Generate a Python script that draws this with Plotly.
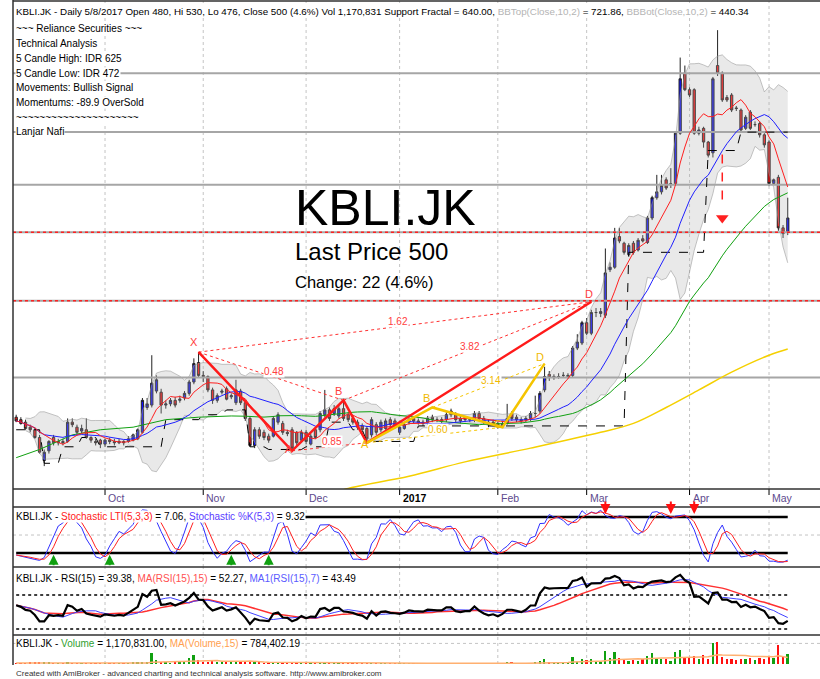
import numpy as np
import pandas as pd
import plotly.graph_objects as go

# ---------------- data ----------------
MONTH_LABELS = ["Oct", "Nov", "Dec", "2017", "Feb", "Mar", "Apr", "May"]
MONTH_START = [19, 40, 62, 82, 103, 122, 144, 161]

OPEN = [282,280,278,274,272,266,249,256,266,262,
        263,263,278,274,271,272,266,263,264,261,
        264,263,262,263,263,264,265,270,290,292,
        304,303,292,293,296,296,298,302,312,330,
        318,317,305,296,303,306,299,294,304,294,
        281,260,272,270,267,267,278,277,270,272,
        270,264,270,261,272,272,284,288,285,283,
        289,284,281,278,275,273,268,276,272,273,
        280,279,270,273,278,281,279,277,278,282,
        280,279,280,287,284,281,282,280,280,285,
        281,278,278,277,275,277,285,282,280,280,
        281,285,287,305,319,316,317,318,317,318,
        344,349,370,359,381,380,378,431,434,474,
        465,450,465,456,471,466,500,530,539,558,
        552,552,638,758,723,723,638,647,622,603,
        775,758,707,712,686,682,647,678,654,656,
        635,622,552,562,486,480]
HIGH = [284,282,280,276,274,268,257,264,268,265,
        265,281,281,276,276,281,267,265,265,265,
        266,265,265,264,267,269,273,298,298,337,
        318,306,296,298,299,300,304,314,334,340,
        322,318,307,302,306,308,302,314,306,296,
        283,274,274,272,269,283,286,279,272,274,
        271,272,272,269,274,287,305,290,292,292,
        296,286,283,280,277,275,282,278,280,281,
        282,281,276,278,282,283,281,280,283,284,
        282,282,286,289,286,283,283,282,287,287,
        283,280,280,278,279,293,287,284,282,283,
        287,300,304,326,322,319,320,321,320,346,
        358,372,375,384,386,386,458,440,486,486,
        467,465,468,472,476,503,533,566,566,562,
        577,642,793,775,728,726,650,650,624,750,
        858,762,712,716,690,685,672,682,660,660,
        638,625,560,566,490,530]
LOW = [278,276,272,270,265,254,245,254,260,260,
       260,262,274,268,269,265,262,260,258,259,
       261,260,261,260,262,263,264,269,288,290,
       302,285,289,291,290,294,296,300,310,316,
       312,303,293,294,301,296,297,292,292,279,
       259,258,265,264,262,266,276,268,267,256,
       259,262,261,260,265,270,282,279,283,281,
       279,278,276,272,270,262,266,268,270,272,
       274,273,268,272,276,277,276,275,276,278,
       278,277,278,282,278,277,278,278,278,279,
       276,274,275,273,274,276,279,278,277,278,
       279,282,285,303,313,314,315,316,315,316,
       342,347,357,357,376,376,375,428,432,465,
       450,447,450,454,466,464,497,527,535,542,
       545,549,635,720,708,635,634,612,595,595,
       752,698,698,678,680,640,644,644,650,630,
       612,548,550,482,472,476]
CLOSE = [279,277,273,272,266,255,255,263,262,263,
         262,278,276,270,273,266,264,262,261,264,
         263,262,263,262,265,268,272,296,293,311,
         314,292,293,296,292,297,302,312,329,318,
         317,305,296,300,304,297,300,305,294,281,
         260,272,267,266,264,281,284,270,269,258,
         262,270,263,267,266,285,288,281,289,289,
         281,280,278,274,272,265,280,270,278,279,
         276,275,274,276,280,279,278,278,281,280,
         280,280,284,284,280,279,280,280,285,281,
         278,276,277,275,277,281,281,280,279,281,
         285,285,302,317,316,317,317,318,318,344,
         350,370,359,381,381,382,427,434,472,468,
         453,462,453,469,468,500,530,539,549,545,
         552,638,746,723,712,638,644,622,599,746,
         758,702,702,682,685,644,668,647,654,635,
         617,552,558,486,478,500]
VOLUME_K = [120,90,110,150,130,200,180,140,100,80,
            90,160,110,100,90,120,80,70,90,
            80,70,90,60,80,120,150,180,260,300,
            1300,430,250,150,120,130,140,400,780,1130,430,
            250,300,350,200,150,200,180,250,220,200,
            300,250,150,120,110,150,160,180,90,150,120,100,
            110,100,90,130,170,120,140,150,130,110,
            90,100,80,120,110,90,100,80,90,70,
            80,70,90,60,70,80,70,60,50,60,
            80,70,60,50,60,70,80,60,50,60,50,
            60,70,250,150,80,70,60,100,200,400,
            560,150,120,130,140,200,870,300,560,
            430,560,300,250,1560,700,1430,780,430,350,
            500,420,560,1000,1300,600,650,560,420,1430,1700,870,
            750,1000,560,1130,600,2500,2700,800,560,600,
            430,560,560,700,430,700,600,
            870,700,2300,900,1170.831]

# slow moving averages whose history starts before the visible range
GREEN_EARLY_IDX = [0, 5, 12, 18, 25, 32, 39, 46]
GREEN_EARLY_VAL = [251, 257, 268, 272, 274, 280, 282, 283]
YELLOW_IDX = [68, 70, 84, 96, 110, 125, 132, 139, 146, 153, 161, 165]
YELLOW_VAL = [226, 229, 238, 248, 258, 270, 277, 290, 305, 321, 337, 343]
RSI_SEED = 58   # RSI level carried in from before the visible range

# support-fractal step line
SUP_START = [0, 6, 10, 14, 18, 32, 40, 45, 50, 54, 62, 67, 72, 75, 86, 131, 148, 155]
SUP_END = [5, 9, 13, 17, 31, 39, 44, 49, 53, 61, 66, 71, 74, 85, 130, 147, 154, 165]
SUP_VAL = [272, 247, 259, 266, 259, 280, 284, 288, 259, 257, 259, 278, 272, 263, 275, 453, 607, 640]

GRAY_LEVELS = [758, 640, 550, 480, 394, 316]
RED_LEVELS = [480, 394]

RED_PAT_LBL = ["X", "A", "B", "", "D"]
RED_PAT_IDX = [39, 59, 70, 75, 123]
RED_PAT_VAL = [340, 256, 296, 262, 393]
RED_RATIO_LBL = ["0.48", "0.85", "1.62", "3.82"]   # X-B, A-C, X-D, B-D
YEL_PAT_LBL = ["A", "B", "C", "D"]
YEL_PAT_IDX = [75, 89, 104, 113]
YEL_PAT_VAL = [262, 290, 274, 329]
YEL_RATIO_LBL = ["0.60", "3.14"]                  # A-C, B-D

BUY_IDX = [8, 20, 46, 54]
SELL_IDX = [126, 140, 145]
TARGET_IDX = 151
TARGET_FROM, TARGET_TO = 600, 500

assert len(OPEN) == len(HIGH) == len(LOW) == len(CLOSE) == len(VOLUME_K) == 166

# ---------------- indicators ----------------
n = len(CLOSE)
idx = np.arange(n)
c = pd.Series(CLOSE, dtype=float)
h = pd.Series(HIGH, dtype=float)
l = pd.Series(LOW, dtype=float)
vol = pd.Series(VOLUME_K, dtype=float) * 1000

ma7 = c.rolling(7, min_periods=1).mean()
ma20 = c.rolling(20, min_periods=1).mean()
ma50 = c.rolling(50).mean()
mid = c.rolling(10, min_periods=3).mean()
sd = c.rolling(10, min_periods=3).std(ddof=0)
bbt, bbb = mid + 2 * sd, mid - 2 * sd

llv = l.rolling(5, min_periods=1).min()
hhv = h.rolling(5, min_periods=1).max()
raw = 100 * (c - llv) / (hhv - llv)
stk = raw.rolling(3, min_periods=1).mean()
std_ = stk.rolling(3, min_periods=1).mean()

# Wilder RSI(15), seeded with the level carried in from earlier history
dl = c.diff().fillna(0).values
base = np.abs(dl[1:16]).mean() / 2
ag = base * RSI_SEED / 50
al = base * (100 - RSI_SEED) / 50
rsi_v = []
for dd in dl:
    ag = (ag * 14 + max(dd, 0)) / 15
    al = (al * 14 + max(-dd, 0)) / 15
    rsi_v.append(100 - 100 / (1 + ag / al))
rsi = pd.Series(rsi_v)
rsi_ma15 = rsi.rolling(15, min_periods=1).mean()
rsi_ma7 = rsi.rolling(7, min_periods=1).mean()
vol_ma = vol.rolling(15, min_periods=1).mean()

green_x = GREEN_EARLY_IDX + list(idx[49:])
green_y = GREEN_EARLY_VAL + list(ma50.iloc[49:])

sup = np.zeros(n)
for s, e, v in zip(SUP_START, SUP_END, SUP_VAL):
    sup[s:e + 1] = v

# ---------------- geometry ----------------
W, H = 820, 679
L_PX = 13
XR = [-0.68, 171.9]


def PX(px):
    return (px - L_PX) / (W - L_PX)


def PY(py):
    return 1 - py / H


FONT = "Liberation Sans, Arial, sans-serif"
LOGR = [np.log10(229.4), np.log10(933.0)]

fig = go.Figure()

# Bollinger band
fig.add_trace(go.Scatter(x=idx, y=bbt, mode="lines", line=dict(color="rgba(150,150,150,0.55)", width=1),
                         xaxis="x", yaxis="y", hoverinfo="skip"))
fig.add_trace(go.Scatter(x=idx, y=bbb, mode="lines", line=dict(color="rgba(150,150,150,0.55)", width=1),
                         fill="tonexty", fillcolor="rgba(175,175,175,0.28)", xaxis="x", yaxis="y", hoverinfo="skip"))
# gray level lines
for lv in GRAY_LEVELS:
    fig.add_trace(go.Scatter(x=XR, y=[lv, lv], mode="lines", line=dict(color="#a6a6a6", width=2),
                             xaxis="x", yaxis="y", hoverinfo="skip"))
# candles
fig.add_trace(go.Candlestick(x=idx, open=OPEN, high=HIGH, low=LOW, close=CLOSE,
                             increasing=dict(fillcolor="#1010ff", line=dict(color="#222222", width=1)),
                             decreasing=dict(fillcolor="#ff1010", line=dict(color="#222222", width=1)),
                             whiskerwidth=0, xaxis="x", yaxis="y", hoverinfo="skip"))
# support fractal
fig.add_trace(go.Scatter(x=idx, y=sup, mode="lines", line=dict(color="black", width=1, dash="dash"),
                         xaxis="x", yaxis="y", hoverinfo="skip"))
# moving averages
fig.add_trace(go.Scatter(x=YELLOW_IDX, y=YELLOW_VAL, mode="lines", line=dict(color="#f5d000", width=1.5, shape="spline"),
                         xaxis="x", yaxis="y", hoverinfo="skip"))
fig.add_trace(go.Scatter(x=green_x, y=green_y, mode="lines", line=dict(color="#10a010", width=1),
                         xaxis="x", yaxis="y", hoverinfo="skip"))
fig.add_trace(go.Scatter(x=idx, y=ma20, mode="lines", line=dict(color="#2020ff", width=1),
                         xaxis="x", yaxis="y", hoverinfo="skip"))
fig.add_trace(go.Scatter(x=idx, y=ma7, mode="lines", line=dict(color="#ff2020", width=1),
                         xaxis="x", yaxis="y", hoverinfo="skip"))


def seg(xs, ys, color, width, dash="solid"):
    fig.add_trace(go.Scatter(x=xs, y=ys, mode="lines", line=dict(color=color, width=width, dash=dash),
                             xaxis="x", yaxis="y", hoverinfo="skip"))


RX, RY = RED_PAT_IDX, RED_PAT_VAL
YX, YY = YEL_PAT_IDX, YEL_PAT_VAL
for a, b in [(0, 2), (1, 3), (0, 4), (2, 4)]:
    seg([RX[a], RX[b]], [RY[a], RY[b]], "#ff3030", 1, "dot")
seg(RX, RY, "#ff1a1a", 2.5)
for a, b in [(0, 2), (1, 3)]:
    seg([YX[a], YX[b]], [YY[a], YY[b]], "#f5c400", 1, "dot")
seg(YX, YY, "#f5c400", 2.5)
for lv in RED_LEVELS:
    fig.add_trace(go.Scatter(x=XR, y=[lv, lv], mode="lines", line=dict(color="#ff2020", width=1.5, dash="dot"),
                             xaxis="x", yaxis="y", hoverinfo="skip"))
fig.add_trace(go.Scatter(x=[TARGET_IDX, TARGET_IDX], y=[TARGET_FROM, TARGET_TO * 1.03], mode="lines",
                         line=dict(color="#ff2020", width=1.5, dash="dash"), xaxis="x", yaxis="y", hoverinfo="skip"))
fig.add_trace(go.Scatter(x=[TARGET_IDX], y=[TARGET_TO], mode="markers",
                         marker=dict(symbol="triangle-down", size=11, color="#ff2020"), xaxis="x", yaxis="y",
                         hoverinfo="skip"))

# ---------------- stochastic ----------------
for lv in [80, 20]:
    fig.add_trace(go.Scatter(x=[0, n - 1], y=[lv, lv], mode="lines", line=dict(color="black", width=2.5),
                             xaxis="x2", yaxis="y2", hoverinfo="skip"))
fig.add_trace(go.Scatter(x=idx, y=stk, mode="lines", line=dict(color="#3030ff", width=1),
                         xaxis="x2", yaxis="y2", hoverinfo="skip"))
fig.add_trace(go.Scatter(x=idx, y=std_, mode="lines", line=dict(color="#ff2020", width=1),
                         xaxis="x2", yaxis="y2", hoverinfo="skip"))

# ---------------- RSI ----------------
for lv in [70, 30]:
    fig.add_trace(go.Scatter(x=[0, n - 1], y=[lv, lv], mode="lines", line=dict(color="black", width=1.5, dash="dot"),
                             xaxis="x3", yaxis="y3", hoverinfo="skip"))
fig.add_trace(go.Scatter(x=idx, y=rsi_ma15, mode="lines", line=dict(color="#ff3030", width=1.5),
                         xaxis="x3", yaxis="y3", hoverinfo="skip"))
fig.add_trace(go.Scatter(x=idx, y=rsi_ma7, mode="lines", line=dict(color="#4040ff", width=1),
                         xaxis="x3", yaxis="y3", hoverinfo="skip"))
fig.add_trace(go.Scatter(x=idx, y=rsi, mode="lines", line=dict(color="black", width=2.2),
                         xaxis="x3", yaxis="y3", hoverinfo="skip"))

# ---------------- volume ----------------
vcol = ["#10a010" if cc >= oo else "#ff1010" for cc, oo in zip(CLOSE, OPEN)]
fig.add_trace(go.Bar(x=idx, y=vol, marker=dict(color=vcol, line=dict(width=0)), width=0.38,
                     xaxis="x4", yaxis="y4", hoverinfo="skip"))
fig.add_trace(go.Scatter(x=idx, y=vol_ma, mode="lines", line=dict(color="#ffb070", width=1.5),
                         xaxis="x4", yaxis="y4", hoverinfo="skip"))

# ---------------- shapes ----------------
shapes = []
GRID = dict(color="#c4c4c4", width=1, dash="dot")
panels = [(1, 489), (507, 567), (567, 635), (636, 664)]
for m in MONTH_START:
    for (t, b) in panels:
        shapes.append(dict(type="line", xref="x", yref="paper", x0=m, x1=m, y0=PY(b), y1=PY(t),
                           line=GRID, layer="below"))
    shapes.append(dict(type="line", xref="x", yref="paper", x0=m, x1=m, y0=PY(489), y1=PY(495),
                       line=dict(color="black", width=1)))
for p in range(250, 901, 50):
    shapes.append(dict(type="line", xref="paper", yref="y", x0=0, x1=1, y0=np.log10(p), y1=np.log10(p),
                       line=GRID, layer="below"))
shapes.append(dict(type="line", xref="paper", yref="y2", x0=0, x1=1, y0=50, y1=50, line=GRID, layer="below"))
shapes.append(dict(type="line", xref="paper", yref="y4", x0=0, x1=1, y0=2.5e6, y1=2.5e6, line=GRID, layer="below"))
BORDER = dict(color="#303030", width=1.5)
for py in [1, 489, 507, 567, 635]:
    shapes.append(dict(type="line", xref="paper", yref="paper", x0=0, x1=1, y0=PY(py), y1=PY(py), line=BORDER))
shapes.append(dict(type="line", xref="paper", yref="paper", x0=0, x1=0, y0=PY(665), y1=PY(0), line=BORDER))

# ---------------- annotations ----------------
ann = []


def txt(px, py, text, size=10, color="black", bg=None, xanchor="left", yanchor="middle"):
    d = dict(x=PX(px), y=PY(py), xref="paper", yref="paper", text=text, showarrow=False,
             xanchor=xanchor, yanchor=yanchor, font=dict(family=FONT, size=size, color=color), borderpad=0)
    if bg:
        d["bgcolor"] = bg
    ann.append(d)


GR = "#b4b4b4"
title = ("KBLI.JK - Daily 5/8/2017 Open 480, Hi 530, Lo 476, Close 500 (4.6%) Vol 1,170,831 "
         "Support Fractal = 640.00, <span style='color:" + GR + "'>BBTop(Close,10,2)</span> = 721.86, "
         "<span style='color:" + GR + "'>BBBot(Close,10,2)</span> = 440.34")
txt(15, 11, title, size=9.8, bg="white")
rows = ["~~~ Reliance Securities ~~~", "Technical Analysis", "5 Candle High: IDR 625",
        "5 Candle Low: IDR 472", "Movements: Bullish Signal", "Momentums: -89.9 OverSold",
        "~~~~~~~~~~~~~~~~~~~~~", "Lanjar Nafi"]
for k, r in enumerate(rows):
    txt(15, 28.75 + k * 14.75, r, bg="white")

txt(294, 208, "KBLI.JK", size=50)
txt(294, 251, "Last Price 500", size=24)
txt(294, 282, "Change: 22 (4.6%)", size=16.5)

for m, lab in zip(MONTH_START, MONTH_LABELS):
    t = "<b>" + lab + "</b>" if lab == "2017" else lab
    col = "black" if lab == "2017" else "#5e4a8e"
    ann.append(dict(x=m, y=PY(498), xref="x", yref="paper", text=t, showarrow=False, xanchor="left",
                    yanchor="middle", xshift=1, font=dict(family=FONT, size=10.5, color=col)))

txt(15, 516, "KBLI.JK - <span style='color:#ff2020'>Stochastic LTI(5,3,3)</span> = 7.06, "
             "<span style='color:#5a3cff'>Stochastic %K(5,3)</span> = 9.32", bg="white")
txt(15, 578, "KBLI.JK - RSI(15) = 39.38, <span style='color:#ff5050'>MA(RSI(15),15)</span> = 52.27, "
             "<span style='color:#5a5aff'>MA1(RSI(15),7)</span> = 43.49", bg="white")
txt(15, 643, "KBLI.JK - <span style='color:#30a030'>Volume</span> = 1,170,831.00, "
             "<span style='color:#ffa050'>MA(Volume,15)</span> = 784,402.19", bg="white")
txt(15, 673, "Created with AmiBroker - advanced charting and technical analysis software. http://www.amibroker.com",
    size=8, color="#333333")


def plabel(i, v, text, color, xs, ys, bg=None, size=11):
    d = dict(x=i, y=np.log10(v), xref="x", yref="y", text=text, showarrow=False, xshift=xs, yshift=ys,
             font=dict(family=FONT, size=size, color=color), borderpad=0)
    if bg:
        d["bgcolor"] = bg
    ann.append(d)


RED_OFF = [(-5, 10), (-3, 2), (-5, 9), (0, 0), (-2, 8)]
for lab, i, v, (xs, ys) in zip(RED_PAT_LBL, RX, RY, RED_OFF):
    if lab:
        plabel(i, v, lab, "#ff4040", xs, ys)
YEL_OFF = [(-2, -1), (-6, 9), (-4, 3), (-5, 7)]
for lab, i, v, (xs, ys) in zip(YEL_PAT_LBL, YX, YY, YEL_OFF):
    plabel(i, v, lab, "#f0b800", xs, ys)
for lab, (a, b) in zip(RED_RATIO_LBL, [(0, 2), (1, 3), (0, 4), (2, 4)]):
    plabel((RX[a] + RX[b]) / 2, np.sqrt(RY[a] * RY[b]), lab, "#ff4040", 3, 5, bg="white", size=10)
for lab, (a, b) in zip(YEL_RATIO_LBL, [(0, 2), (1, 3)]):
    plabel((YX[a] + YX[b]) / 2, np.sqrt(YY[a] * YY[b]), lab, "#f0b800", 3, 5, bg="white", size=10)

for i in BUY_IDX:
    ann.append(dict(x=i, y=17, xref="x2", yref="y2", ax=0, ay=12, showarrow=True, arrowhead=2, arrowsize=1,
                    arrowwidth=2, arrowcolor="#10a010", text=""))
for i in SELL_IDX:
    ann.append(dict(x=i, y=85, xref="x2", yref="y2", ax=0, ay=-14, showarrow=True, arrowhead=2, arrowsize=1,
                    arrowwidth=2, arrowcolor="#ff1010", text=""))

# ---------------- layout ----------------
ax_common = dict(range=XR, visible=False, showgrid=False, zeroline=False)
fig.update_layout(
    width=W, height=H, margin=dict(l=L_PX, r=0, t=0, b=0),
    paper_bgcolor="white", plot_bgcolor="white", showlegend=False,
    font=dict(family=FONT, size=10, color="black"),
    xaxis=dict(**ax_common, anchor="y", rangeslider=dict(visible=False)),
    xaxis2=dict(**ax_common, anchor="y2", matches="x"),
    xaxis3=dict(**ax_common, anchor="y3", matches="x"),
    xaxis4=dict(**ax_common, anchor="y4", matches="x"),
    yaxis=dict(type="log", range=LOGR, domain=[PY(489), PY(1)], visible=False, showgrid=False),
    yaxis2=dict(range=[-3.3, 96.7], domain=[PY(567), PY(507)], visible=False, showgrid=False),
    yaxis3=dict(range=[23, 103], domain=[PY(635), PY(567)], visible=False, showgrid=False),
    yaxis4=dict(range=[0, 3.4e6], domain=[PY(664), PY(636)], visible=False, showgrid=False),
    shapes=shapes, annotations=ann, bargap=0,
)

fig.write_html("out.html", config={"displayModeBar": False},
               post_script="document.body.style.margin='0px';document.body.style.overflow='hidden';")
